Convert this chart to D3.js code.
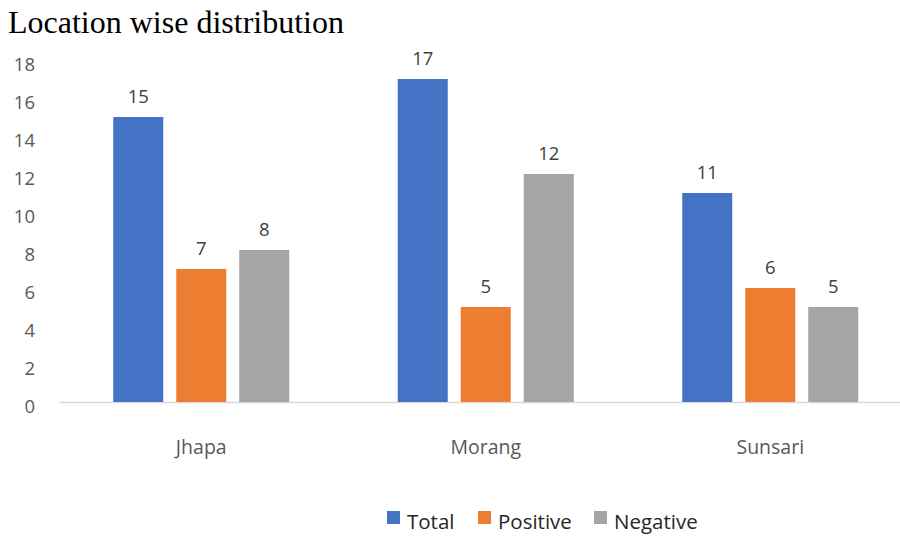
<!DOCTYPE html>
<html><head><meta charset="utf-8">
<script src="https://cdn.jsdelivr.net/npm/d3@7"></script>
<style>body{margin:0;background:#fff;} svg{display:block;}</style>
</head><body>
<script>
const categories = ["Jhapa", "Morang", "Sunsari"];
const seriesNames = ["Total", "Positive", "Negative"];
const totalValues = [15, 17, 11];
const positiveValues = [7, 5, 6];
const negativeValues = [8, 12, 5];
const yTicks = [0, 2, 4, 6, 8, 10, 12, 14, 16, 18];
const colors = ["#4472C4", "#ED7D31", "#A5A5A5"];

const series = [totalValues, positiveValues, negativeValues];
const W = 900, H = 538;
const svg = d3.select("body").append("svg").attr("width", W).attr("height", H);
const font = "'Open Sans', 'Noto Sans', sans-serif";

svg.append("text").attr("x", 8).attr("y", 33).text("Location wise distribution")
  .attr("font-family", "'Liberation Serif', 'Times New Roman', serif").attr("font-size", 32).attr("fill", "#000");

const x0 = d3.scaleBand().domain(categories).range([59, 912.5]).paddingInner(0).paddingOuter(0);
const y = d3.scaleLinear().domain([0, 18]).range([402, 60]);

// y tick labels
const yAxis = d3.axisLeft(y).tickValues(yTicks).tickSize(0).tickPadding(0);
const gy = svg.append("g").attr("transform", "translate(35,4)").call(yAxis);
gy.select(".domain").remove();
gy.selectAll("text").attr("font-family", font).attr("font-size", 18.5).attr("fill", "#595959").attr("dy", "0.35em");

// baseline
const xAxis = d3.axisBottom(x0).tickSize(0).tickPadding(0);
const gx = svg.append("g").attr("transform", `translate(0,${y(0)})`).call(xAxis);
gx.select(".domain").attr("stroke", "#D9D9D9").attr("stroke-width", 1.5);
gx.selectAll("text").attr("font-family", font).attr("font-size", 19.5).attr("fill", "#595959").attr("dy", "0").attr("y", 52);

const barW = 50, gap = 13;
categories.forEach((c, i) => {
  const center = x0(c) + x0.bandwidth() / 2;
  series.forEach((vals, s) => {
    const bx = center - (3 * barW + 2 * gap) / 2 + s * (barW + gap);
    svg.append("rect").attr("x", bx).attr("y", y(vals[i])).attr("width", barW)
      .attr("height", y(0) - y(vals[i])).attr("fill", colors[s]);
    svg.append("text").attr("x", bx + barW / 2).attr("y", y(vals[i]) - 14)
      .attr("text-anchor", "middle").attr("font-family", font).attr("font-size", 18.5)
      .attr("fill", "#404040").text(vals[i]);
  });
});

// legend
const legendX = [387, 478, 594];
seriesNames.forEach((n, s) => {
  svg.append("rect").attr("x", legendX[s]).attr("y", 511).attr("width", 13).attr("height", 13).attr("fill", colors[s]);
  svg.append("text").attr("x", legendX[s] + 20).attr("y", 529).attr("font-family", font)
    .attr("font-size", 20.5).attr("fill", "#262626").text(n);
});
</script>
</body></html>
